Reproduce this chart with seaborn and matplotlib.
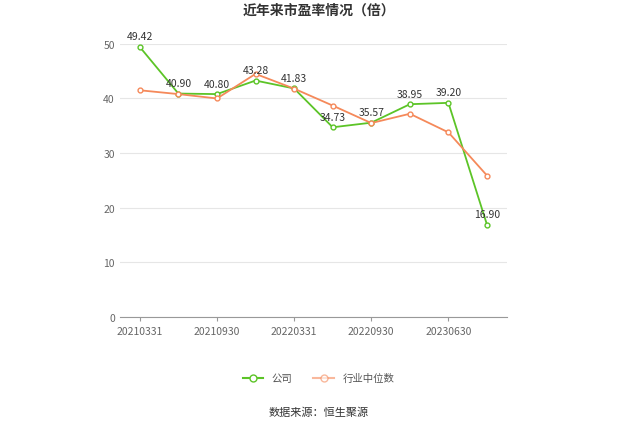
import matplotlib
matplotlib.use("Agg")
import matplotlib.pyplot as plt
import seaborn as sns
import pandas as pd

plt.rcParams["font.family"] = "Noto Sans CJK SC"

dates = ["20210331","20210630","20210930","20211231","20220331","20220630",
         "20220930","20221231","20230630","20230930"]
company = [49.42, 40.90, 40.80, 43.28, 41.83, 34.73, 35.57, 38.95, 39.20, 16.90]
industry = [41.5, 40.8, 40.0, 44.5, 41.8, 38.7, 35.5, 37.2, 33.8, 25.9]

df = pd.DataFrame({"x": range(len(dates)), "公司": company, "行业中位数": industry})
long = df.melt(id_vars="x", var_name="s", value_name="v")

fig = plt.figure(figsize=(6.37, 4.31), dpi=100)
ax = fig.add_axes([0.188, 0.262, 0.608, 0.634])
sns.lineplot(data=long, x="x", y="v", hue="s", palette={"公司": "#5cc427", "行业中位数": "#f5895a"},
             marker="o", markersize=3.5, markerfacecolor="white", markeredgewidth=1,
             linewidth=1.3, ax=ax, legend=False)
for l, c in zip(ax.lines, ["#5cc427", "#f5895a"]):
    l.set_markeredgecolor(c)
for i, v in enumerate(company):
    ax.annotate(f"{v:.2f}", (i, v), xytext=(0, 4), textcoords="offset points",
                ha="center", va="bottom", fontsize=7.5, color="#333333")
ax.set_xlim(-0.52, 9.52)
ax.set_ylim(0, 50)
ax.set_yticks(range(0, 51, 10))
ax.set_xticks(range(0, 10, 2))
ax.set_xticklabels(dates[0::2])
ax.tick_params(labelsize=7.5, colors="#666666", length=0)
ax.grid(axis="y", color="#e6e6e6", linewidth=0.8)
ax.set_xlabel(""); ax.set_ylabel("")
for s in ["top", "right", "left"]:
    ax.spines[s].set_visible(False)
ax.spines["bottom"].set_color("#999999")
ax.tick_params(axis="x", length=3, color="#999999")

fig.text(0.5, 0.975, "近年来市盈率情况（倍）", ha="center", va="center", fontsize=10, fontweight="bold", color="#333333")
from matplotlib.lines import Line2D
h = [Line2D([], [], color="#5cc427", marker="o", markerfacecolor="white", markersize=5),
     Line2D([], [], color="#f5895a", marker="o", markerfacecolor="white", markersize=5, alpha=0.6)]
fig.legend(h, ["公司", "行业中位数"], loc="center", bbox_to_anchor=(0.5, 0.12), ncol=2,
           frameon=False, fontsize=7.5, labelcolor="#555555", handlelength=2)
fig.text(0.5, 0.042, "数据来源：恒生聚源", ha="center", va="center", fontsize=8, color="#333333")
fig.savefig("out.png", dpi=100)
